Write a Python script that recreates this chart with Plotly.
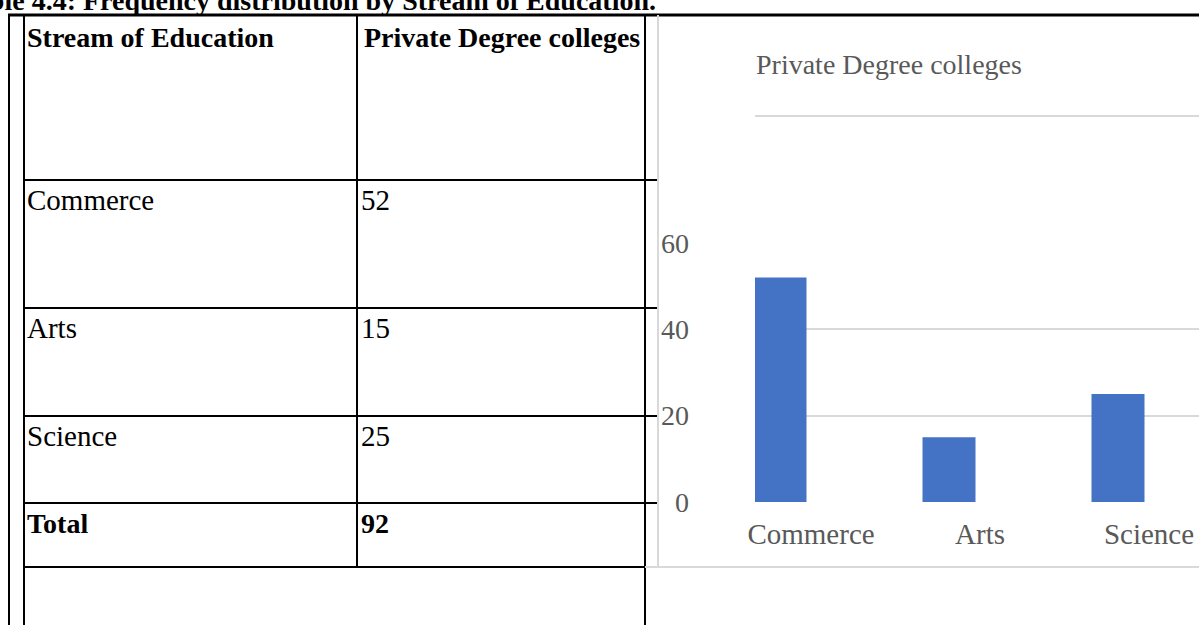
import plotly.graph_objects as go

# ---------------- data ----------------
caption = "Table 4.4: Frequency distribution by Stream of Education."
header = ["Stream of Education", "Private Degree colleges"]
streams = ["Commerce", "Arts", "Science"]
counts = [52, 15, 25]
total_label = "Total"
total_value = 92
chart_title = "Private Degree colleges"
y_ticks = [0, 20, 40, 60]

# ---------------- layout helpers ----------------
W, H = 1199, 625
def px(x):
    return x / W
def py(y):
    return 1 - y / H

FONT = "Liberation Serif"
GRAY = "#595959"
GRID = "#d9d9d9"
BLUE = "#4472C4"

fig = go.Figure()

fig.add_trace(go.Bar(
    x=streams, y=counts, marker_color=BLUE, marker_line_width=0,
    showlegend=False, hoverinfo="x+y",
))

shapes = []
def line(x0, y0, x1, y1, color="black", width=2):
    shapes.append(dict(type="line", xref="paper", yref="paper",
                       x0=px(x0), y0=py(y0), x1=px(x1), y1=py(y1),
                       line=dict(color=color, width=width)))

# table borders
line(8, 15, 1199, 15, width=3)
line(9, 15, 9, 625)
line(24, 15, 24, 625)
line(357, 15, 357, 567)
line(645, 15, 645, 625)
for yy in [180, 308, 416, 503]:
    line(24, yy, 657, yy)
line(24, 567, 645, 567)

# chart frame (light gray)
line(658, 15, 658, 567, color=GRID, width=2)
line(645, 567, 1199, 567, color=GRID, width=2)
# title separator
line(755, 116, 1199, 116, color=GRID, width=2)

annotations = []
def text(x, y, s, bold=False, color="black", size=28, xanchor="left"):
    annotations.append(dict(
        xref="paper", yref="paper", x=px(x), y=py(y), xanchor=xanchor,
        yanchor="middle", showarrow=False,
        text=f"<b>{s}</b>" if bold else s,
        font=dict(family=FONT, size=size, color=color)))

# table header
text(25, 37, header[0], bold=True)
text(362, 37, header[1], bold=True)

# table rows
row_y = [200, 328, 436]
for s, v, yy in zip(streams, counts, row_y):
    text(25, yy, s, size=29)
    text(359, yy, str(v), size=29)
text(25, 523, total_label, bold=True)
text(359, 523, str(total_value), bold=True)

# chart title
text(754, 65, chart_title, color=GRAY)

# category axis geometry: bar centres ~169 px apart, first at x=780
left_px, right_px = 755, 1199
slot = 169.0
x0 = -(780 - left_px) / slot
x1 = x0 + (right_px - left_px) / slot

fig.update_layout(
    template="none",
    width=W, height=H,
    margin=dict(l=0, r=0, t=0, b=0, pad=0, autoexpand=False),
    paper_bgcolor="white", plot_bgcolor="white",
    bargap=1 - 53 / slot,
    shapes=shapes, annotations=annotations,
    font=dict(family=FONT, color=GRAY, size=28),
    # caption of the page, cut off by the top and left edges
    title=dict(
        text=f"<b>{caption}</b>", xref="container", yref="container",
        x=px(656), xanchor="right", y=1.0, yanchor="middle",
        automargin=False,
        font=dict(family=FONT, size=28, color="black"),
    ),
    xaxis=dict(
        domain=[px(left_px), px(right_px)],
        range=[x0, x1], type="category", automargin=False,
        showgrid=False, showline=False, zeroline=False, ticks="",
        tickfont=dict(family=FONT, size=29, color=GRAY),
        ticklabelstandoff=12, ticklabelshift=31,
    ),
    yaxis=dict(
        domain=[py(502), py(243)], automargin=False,
        range=[0, 60], tickvals=y_ticks,
        showgrid=True, gridcolor=GRID, gridwidth=2,
        zeroline=False, showline=False, ticks="",
        tickfont=dict(family=FONT, size=28, color=GRAY),
        ticklabelstandoff=65,
    ),
)

fig.write_html("out.html")
